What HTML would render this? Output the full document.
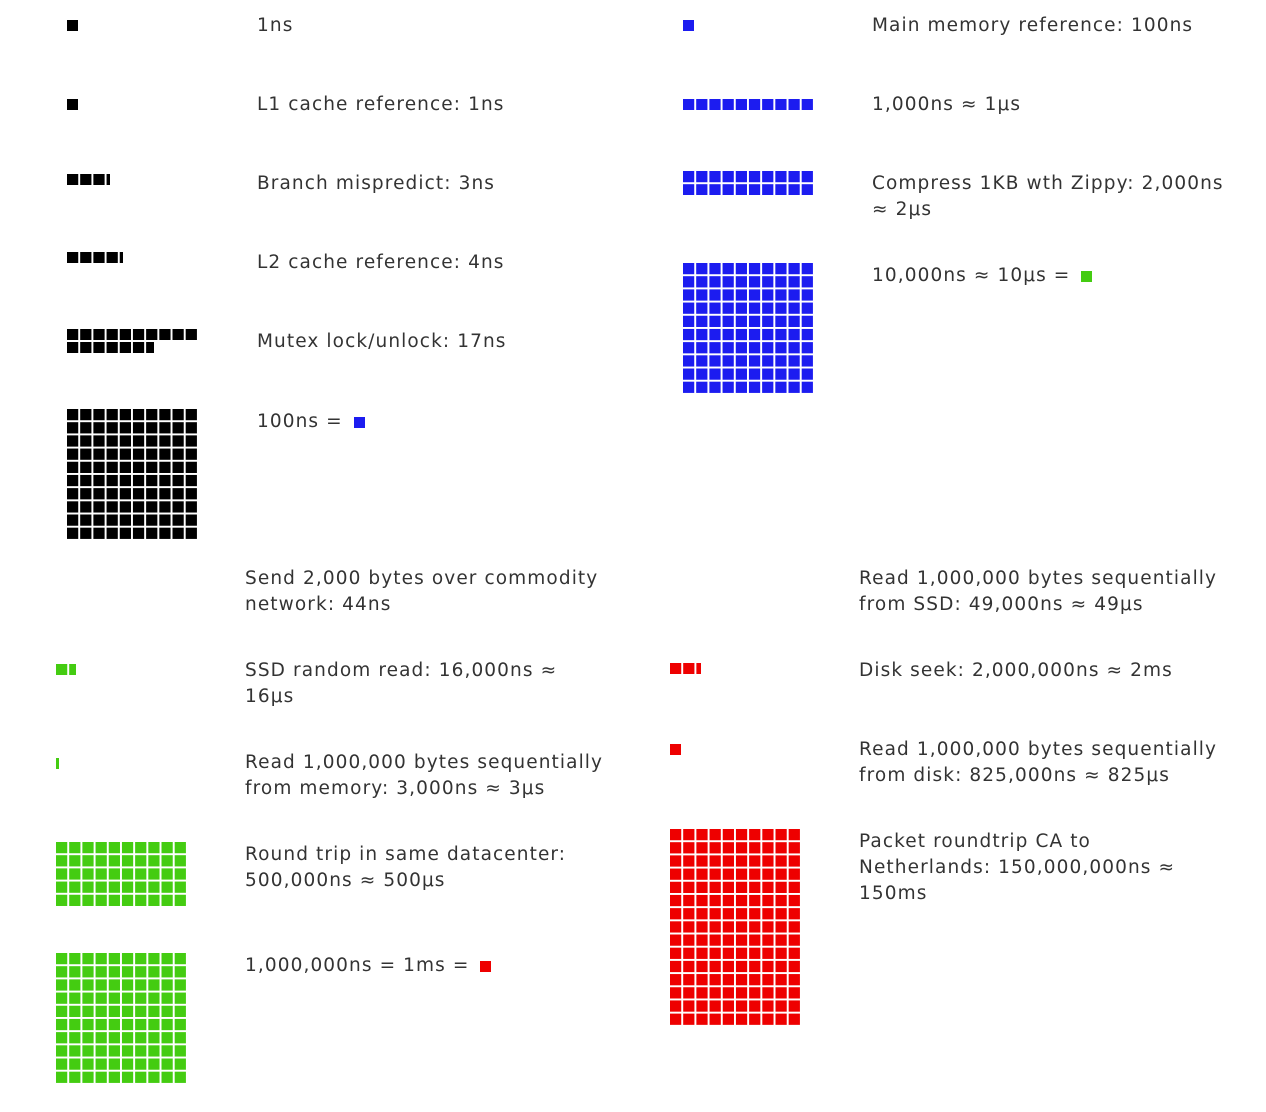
<!DOCTYPE html>
<html><head><meta charset="utf-8"><style>
body{margin:0;width:1266px;height:1112px;background:#fff;position:relative;overflow:hidden;font-family:"DejaVu Sans","Liberation Sans",sans-serif;}
.t{position:absolute;font-size:18.5px;letter-spacing:1.1px;line-height:26px;color:#333;white-space:nowrap;}
.g{position:absolute;background-image:linear-gradient(to right,transparent 11px,#fff 11px),linear-gradient(to bottom,transparent 11px,#fff 11px);background-size:13.2px 13.2px;}
.k{background-color:#000}.b{background-color:#1c1cf0}.gr{background-color:#44cc11}.r{background-color:#ee0000}
.s{display:inline-block;width:11px;height:11px;vertical-align:-1px;margin-left:4px}
</style></head><body>
<div class="g k" style="left:67px;top:20px;width:11px;height:11px"></div>
<div class="g k" style="left:67px;top:99px;width:11px;height:11px"></div>
<div class="g k" style="left:67px;top:174px;width:43px;height:11px"></div>
<div class="g k" style="left:67px;top:252px;width:56px;height:11px"></div>
<div class="g k" style="left:67px;top:329px;width:130px;height:11px"></div>
<div class="g k" style="left:67px;top:342px;width:87px;height:11px"></div>
<div class="g k" style="left:67px;top:409px;width:130px;height:130px"></div>
<div class="t" style="left:257px;top:13px">1ns</div>
<div class="t" style="left:257px;top:92px">L1 cache reference: 1ns</div>
<div class="t" style="left:257px;top:171px">Branch mispredict: 3ns</div>
<div class="t" style="left:257px;top:250px">L2 cache reference: 4ns</div>
<div class="t" style="left:257px;top:329px">Mutex lock/unlock: 17ns</div>
<div class="t" style="left:257px;top:409px">100ns = <span class="s b"></span></div>
<div class="g b" style="left:683px;top:20px;width:11px;height:11px"></div>
<div class="g b" style="left:683px;top:99px;width:130px;height:11px"></div>
<div class="g b" style="left:683px;top:171px;width:130px;height:24px"></div>
<div class="g b" style="left:683px;top:263px;width:130px;height:130px"></div>
<div class="t" style="left:872px;top:13px">Main memory reference: 100ns</div>
<div class="t" style="left:872px;top:92px">1,000ns ≈ 1μs</div>
<div class="t" style="left:872px;top:171px">Compress 1KB wth Zippy: 2,000ns<br>≈ 2μs</div>
<div class="t" style="left:872px;top:263px">10,000ns ≈ 10μs = <span class="s gr"></span></div>
<div class="g gr" style="left:56px;top:664px;width:20px;height:11px"></div>
<div class="g gr" style="left:56px;top:758px;width:3px;height:11px"></div>
<div class="g gr" style="left:56px;top:842px;width:130px;height:64px"></div>
<div class="g gr" style="left:56px;top:953px;width:130px;height:130px"></div>
<div class="t" style="left:245px;top:566px">Send 2,000 bytes over commodity<br>network: 44ns</div>
<div class="t" style="left:245px;top:658px">SSD random read: 16,000ns ≈<br>16μs</div>
<div class="t" style="left:245px;top:750px">Read 1,000,000 bytes sequentially<br>from memory: 3,000ns ≈ 3μs</div>
<div class="t" style="left:245px;top:842px">Round trip in same datacenter:<br>500,000ns ≈ 500μs</div>
<div class="t" style="left:245px;top:953px">1,000,000ns = 1ms = <span class="s r"></span></div>
<div class="g r" style="left:670px;top:663px;width:31px;height:11px"></div>
<div class="g r" style="left:670px;top:744px;width:11px;height:11px"></div>
<div class="g r" style="left:670px;top:829px;width:130px;height:196px"></div>
<div class="t" style="left:859px;top:566px">Read 1,000,000 bytes sequentially<br>from SSD: 49,000ns ≈ 49μs</div>
<div class="t" style="left:859px;top:658px">Disk seek: 2,000,000ns ≈ 2ms</div>
<div class="t" style="left:859px;top:737px">Read 1,000,000 bytes sequentially<br>from disk: 825,000ns ≈ 825μs</div>
<div class="t" style="left:859px;top:829px">Packet roundtrip CA to<br>Netherlands: 150,000,000ns ≈<br>150ms</div>
</body></html>
